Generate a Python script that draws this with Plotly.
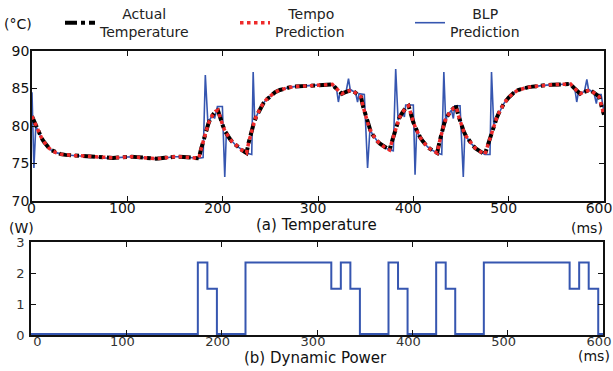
import plotly.graph_objects as go

# ---------------- data ----------------
time_ms = [0, 2.5, 5, 7.5, 10, 12.5, 15, 17.5, 20, 25, 30, 35, 40, 45, 50, 55, 60, 65, 70, 75,
           80, 85, 90, 95, 100, 105, 110, 115, 120, 125, 130, 135, 140, 145, 150, 155, 160, 165, 170, 175,
           177.5, 180, 182.5, 185, 187.5, 190, 192.5, 195,
           197.5, 200, 202.5, 205, 207.5, 210, 212.5, 215, 217.5, 220, 222.5, 225,
           227.5, 230, 232.5, 235, 237.5, 240, 242.5, 245, 250, 255, 260, 265, 270, 275, 280, 285, 290, 295,
           300, 305, 310, 315,
           317.5, 320, 322.5, 325, 327.5, 330, 332.5, 335, 337.5, 340, 342.5, 345,
           347.5, 350, 352.5, 355, 357.5, 360, 362.5, 365, 367.5, 370, 372.5, 375,
           377.5, 380, 382.5, 385, 387.5, 390, 392.5, 395,
           397.5, 400, 402.5, 405, 407.5, 410, 412.5, 415, 417.5, 420, 422.5, 425,
           427.5, 430, 432.5, 435, 437.5, 440, 442.5, 445,
           447.5, 450, 452.5, 455, 457.5, 460, 462.5, 465, 467.5, 470, 472.5, 475,
           477.5, 480, 482.5, 485, 487.5, 490, 492.5, 495, 500, 505, 510, 515, 520, 525, 530, 535, 540, 545,
           550, 555, 560, 565,
           567.5, 570, 572.5, 575, 577.5, 580, 582.5, 585, 587.5, 590, 592.5, 595, 597.5, 600]

actual_temp = [81.3, 80.5, 79.7, 79.0, 78.4, 77.9, 77.4, 77.1, 76.8, 76.45, 76.25, 76.15, 76.1, 76.05, 76.05, 76.0, 75.95, 75.85, 75.8, 75.75,
               75.7, 75.75, 75.8, 75.85, 75.9, 75.9, 75.85, 75.8, 75.7, 75.65, 75.65, 75.7, 75.8, 75.85, 75.9, 75.9, 75.85, 75.8, 75.75, 75.7,
               77.0, 78.2, 79.3, 80.3, 81.1, 81.6, 81.95, 82.1,
               81.0, 80.1, 79.3, 78.7, 78.3, 77.9, 77.6, 77.3, 77.05, 76.8, 76.6, 76.4,
               77.9, 79.2, 80.3, 81.2, 81.9, 82.5, 83.0, 83.4, 84.0, 84.5, 84.8, 85.0, 85.15, 85.25, 85.3, 85.35, 85.4, 85.45,
               85.5, 85.5, 85.55, 85.55,
               85.2, 84.85, 84.55, 84.3, 84.45, 84.6, 84.7, 84.8, 84.6, 84.35, 84.1, 83.9,
               82.5, 81.3, 80.3, 79.4, 78.8, 78.3, 77.95, 77.65, 77.4, 77.15, 76.95, 76.8,
               77.9, 79.0, 80.1, 81.0, 81.6, 82.1, 82.5, 82.7,
               81.5, 80.5, 79.7, 79.0, 78.4, 77.95, 77.5, 77.2, 76.95, 76.75, 76.55, 76.4,
               77.9, 79.3, 80.4, 81.2, 81.7, 82.1, 82.4, 82.5,
               81.3, 80.2, 79.4, 78.7, 78.2, 77.75, 77.4, 77.05, 76.8, 76.6, 76.4, 76.2,
               77.2, 78.2, 79.3, 80.3, 81.1, 81.8, 82.4, 83.0, 83.8, 84.4, 84.8, 85.0, 85.15, 85.25, 85.35, 85.4, 85.45, 85.5,
               85.55, 85.55, 85.6, 85.6,
               85.2, 84.85, 84.55, 84.3, 84.45, 84.6, 84.7, 84.8, 84.6, 84.35, 84.1, 83.9, 82.6, 81.5]

tempo_temp = [81.3, 80.5, 79.7, 79.0, 78.4, 77.9, 77.4, 77.1, 76.8, 76.45, 76.25, 76.15, 76.1, 76.05, 76.05, 76.0, 75.95, 75.85, 75.8, 75.75,
              75.7, 75.75, 75.8, 75.85, 75.9, 75.9, 75.85, 75.8, 75.7, 75.65, 75.65, 75.7, 75.8, 75.85, 75.9, 75.9, 75.85, 75.8, 75.75, 75.7,
              77.0, 78.2, 79.3, 80.3, 81.1, 81.6, 81.95, 82.1,
              81.0, 80.1, 79.3, 78.7, 78.3, 77.9, 77.6, 77.3, 77.05, 76.8, 76.6, 76.4,
              77.9, 79.2, 80.3, 81.2, 81.9, 82.5, 83.0, 83.4, 84.0, 84.5, 84.8, 85.0, 85.15, 85.25, 85.3, 85.35, 85.4, 85.45,
              85.5, 85.5, 85.55, 85.55,
              85.2, 84.85, 84.55, 84.3, 84.45, 84.6, 84.7, 84.8, 84.6, 84.35, 84.1, 83.9,
              82.5, 81.3, 80.3, 79.4, 78.8, 78.3, 77.95, 77.65, 77.4, 77.15, 76.95, 76.8,
              77.9, 79.0, 80.1, 81.0, 81.6, 82.1, 82.5, 82.7,
              81.5, 80.5, 79.7, 79.0, 78.4, 77.95, 77.5, 77.2, 76.95, 76.75, 76.55, 76.4,
              77.9, 79.3, 80.4, 81.2, 81.7, 82.1, 82.4, 82.5,
              81.3, 80.2, 79.4, 78.7, 78.2, 77.75, 77.4, 77.05, 76.8, 76.6, 76.4, 76.2,
              77.2, 78.2, 79.3, 80.3, 81.1, 81.8, 82.4, 83.0, 83.8, 84.4, 84.8, 85.0, 85.15, 85.25, 85.35, 85.4, 85.45, 85.5,
              85.55, 85.55, 85.6, 85.6,
              85.2, 84.85, 84.55, 84.3, 84.45, 84.6, 84.7, 84.8, 84.6, 84.35, 84.1, 83.9, 82.6, 81.5]

blp_time = [0, 1, 2, 4, 5, 7.5, 10, 12.5, 15, 17.5, 20, 25, 30, 35, 40, 45, 50, 55, 60, 65, 70, 75,
            80, 85, 90, 95, 100, 105, 110, 115, 120, 125, 130, 135, 140, 145, 150, 155, 160, 165, 170, 175,
            179.5, 181.8, 184.5, 187.5, 189.5, 191.5, 193, 194.5, 199.7, 202.2, 203.9,
            205, 207.5, 210, 212.5, 215, 217.5, 220, 222.5, 225,
            230.5, 232, 233.6, 235, 237.5, 240, 242.5, 245, 250, 255, 260, 265, 270, 275, 280, 285, 290, 295,
            300, 305, 310, 315,
            317.5, 319.5, 321.4, 323, 325, 327.5, 329.5, 332, 334, 335, 337.5, 339.5, 341.5, 343, 348.6, 352, 354.5,
            355, 357.5, 360, 362.5, 365, 367.5, 370, 372.5, 375,
            379, 381.5, 384, 385, 387.5, 389, 390.6, 392, 400, 401.8, 403.5,
            405, 407.5, 410, 412.5, 415, 417.5, 420, 422.5, 425,
            429.8, 432, 434, 435, 437.5, 440, 442, 443.5, 449, 452.4, 454,
            455, 457.5, 460, 462.5, 465, 467.5, 470, 472.5, 475,
            480.4, 482, 484.3, 485, 487.5, 490, 492.5, 495, 500, 505, 510, 515, 520, 525, 530, 535, 540, 545,
            550, 555, 560, 565,
            567.5, 569.5, 571.4, 573, 575, 577.5, 579.5, 582, 584, 585, 587.5, 589.5, 592, 593.5, 597, 600]

blp_temp = [84.5, 79.5, 74.4, 80.0, 79.7, 79.0, 78.4, 77.9, 77.4, 77.1, 76.8, 76.45, 76.25, 76.15, 76.1, 76.05, 76.05, 76.0, 75.95, 75.85, 75.8, 75.75,
            75.7, 75.75, 75.8, 75.85, 75.9, 75.9, 75.85, 75.8, 75.7, 75.65, 75.65, 75.7, 75.8, 75.85, 75.9, 75.9, 75.85, 75.8, 75.75, 75.7,
            75.8, 86.8, 80.4, 81.1, 81.5, 81.0, 82.0, 82.6, 82.6, 73.2, 79.2,
            78.7, 78.3, 77.9, 77.6, 77.3, 77.05, 76.8, 76.6, 76.4,
            76.2, 87.2, 80.8, 81.2, 81.9, 82.5, 83.0, 83.4, 84.0, 84.5, 84.8, 85.0, 85.15, 85.25, 85.3, 85.35, 85.4, 85.45,
            85.5, 85.5, 85.55, 85.55,
            85.2, 84.9, 83.2, 84.4, 84.3, 84.45, 84.6, 86.3, 84.7, 84.8, 84.6, 84.4, 83.2, 84.3, 84.2, 74.4, 79.6,
            79.4, 78.8, 78.3, 77.95, 77.65, 77.4, 77.15, 76.95, 76.8,
            76.7, 87.6, 80.8, 81.0, 81.6, 81.9, 81.2, 82.8, 82.8, 73.5, 79.4,
            79.0, 78.4, 77.95, 77.5, 77.2, 76.95, 76.75, 76.55, 76.4,
            76.2, 87.2, 80.4, 81.2, 81.7, 82.1, 81.0, 82.7, 82.7, 73.2, 79.0,
            78.7, 78.2, 77.75, 77.4, 77.05, 76.8, 76.6, 76.4, 76.2,
            76.2, 87.2, 80.2, 80.3, 81.1, 81.8, 82.4, 83.0, 83.8, 84.4, 84.8, 85.0, 85.15, 85.25, 85.35, 85.4, 85.45, 85.5,
            85.55, 85.55, 85.6, 85.6,
            85.2, 84.9, 83.2, 84.4, 84.3, 84.45, 84.6, 86.2, 84.7, 84.8, 84.6, 84.4, 83.0, 84.2, 84.2, 81.8]

power_time = [0, 175, 185, 195, 225, 315, 325, 335, 345, 375, 385, 395, 425, 435, 445, 475, 565, 575, 585, 595, 600]
power_watt = [0.03, 2.35, 1.5, 0.03, 2.35, 1.5, 2.35, 1.5, 0.03, 2.35, 1.5, 0.03, 2.35, 1.5, 0.03, 2.35, 1.5, 2.35, 1.5, 0.03, 0.03]

x_ticks = [0, 100, 200, 300, 400, 500, 600]
temp_ticks = [70, 75, 80, 85, 90]
power_ticks = [0, 1, 2, 3]

NB = "\u00a0"
x_ticktext_top = [NB * 2 + "0", "100", "200", "300", "400", "500", "600"]
x_ticktext_bottom = [NB * 5 + "0", "100", "200", "300", "400", "500", "600"]
legend_names = [NB * 5 + "Actual<br>Temperature", NB * 3 + "Tempo<br>Prediction", NB * 5 + "BLP<br>Prediction"]

# ---------------- figure ----------------
W, H = 613, 371
FONT = "DejaVu Sans"
BLUE = "#3656b0"
RED = "#ee2a2a"

fig = go.Figure()
fig.add_trace(go.Scatter(x=blp_time, y=blp_temp, mode="lines", name=legend_names[2],
                         line=dict(color=BLUE, width=1.6), legendrank=3, xaxis="x", yaxis="y"))
fig.add_trace(go.Scatter(x=time_ms, y=actual_temp, mode="lines", name=legend_names[0],
                         line=dict(color="black", width=4, dash="dashdot"), legendrank=1, xaxis="x", yaxis="y"))
fig.add_trace(go.Scatter(x=time_ms, y=tempo_temp, mode="lines", name=legend_names[1],
                         line=dict(color=RED, width=3.5, dash="dot"), legendrank=2, xaxis="x", yaxis="y"))
fig.add_trace(go.Scatter(x=power_time, y=power_watt, mode="lines", line_shape="hv", showlegend=False,
                         line=dict(color=BLUE, width=2), xaxis="x2", yaxis="y2"))

axis_common = dict(showgrid=False, zeroline=False, showline=True, mirror="ticks", linecolor="#111",
                   linewidth=1.6, ticks="inside", ticklen=5, tickcolor="#111", tickwidth=1.2,
                   automargin=False)

fig.update_layout(
    width=W, height=H, margin=dict(l=0, r=0, t=0, b=0, autoexpand=False),
    paper_bgcolor="white", plot_bgcolor="white",
    font=dict(family=FONT, size=14, color="#111"),
    xaxis=dict(domain=[32 / W, 604 / W], range=[0, 600], tickvals=x_ticks, ticktext=x_ticktext_top,
               anchor="y", tickfont=dict(size=14), ticklabelstandoff=-7, ticklabelshift=-5,
               ticklabeloverflow="allow", **axis_common),
    yaxis=dict(domain=[1 - 201 / H, 1 - 51 / H], range=[70, 90], tickvals=temp_ticks, anchor="x",
               tickfont=dict(size=14), ticklabelstandoff=-2, **axis_common),
    xaxis2=dict(domain=[31 / W, 603 / W], range=[0, 600], tickvals=x_ticks, ticktext=x_ticktext_bottom,
                anchor="y2", tickfont=dict(size=13, color="#333"), ticklabelstandoff=-6, ticklabelshift=-4,
                ticklabeloverflow="allow", **axis_common),
    yaxis2=dict(domain=[1 - 335 / H, 1 - 242.3 / H], range=[0, 3], tickvals=power_ticks, anchor="x2",
                tickfont=dict(size=13, color="#333"), ticklabelstandoff=2, **axis_common),
    legend=dict(orientation="h", x=60 / W, y=1 + 2 / H, xanchor="left", yanchor="top",
                font=dict(family=FONT, size=14, color="#222"), bgcolor="rgba(0,0,0,0)",
                entrywidth=130, entrywidthmode="pixels", itemwidth=30, traceorder="normal"),
    showlegend=True,
)

ann = [
    dict(text="(°C)", x=18 / W, y=1 - 24 / H, xanchor="center", yanchor="middle", font=dict(size=14)),
    dict(text="(a) Temperature", x=316 / W, y=1 - 225 / H, xanchor="center", yanchor="middle", font=dict(size=15)),
    dict(text="(ms)", x=605 / W, y=1 - 228 / H, xanchor="right", yanchor="middle", font=dict(size=14)),
    dict(text="(W)", x=22 / W, y=1 - 227.5 / H, xanchor="center", yanchor="middle", font=dict(size=14)),
    dict(text="(b) Dynamic Power", x=315 / W, y=1 - 358 / H, xanchor="center", yanchor="middle", font=dict(size=15)),
    dict(text="(ms)", x=612 / W, y=1 - 356 / H, xanchor="right", yanchor="middle", font=dict(size=14)),
]
for a in ann:
    fig.add_annotation(xref="paper", yref="paper", showarrow=False, **a)

fig.write_html(
    "out.html",
    config={"displayModeBar": False},
    post_script="document.body.style.margin='0';document.body.style.overflow='hidden';",
)
